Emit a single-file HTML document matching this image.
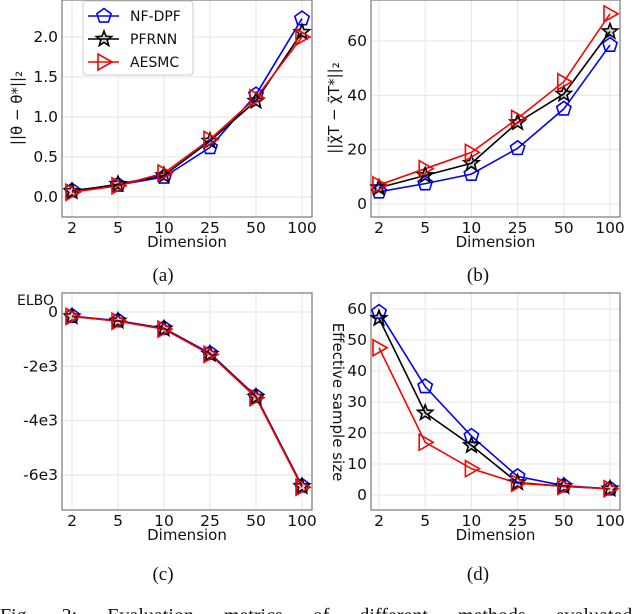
<!DOCTYPE html>
<html><head><meta charset="utf-8">
<style>
html,body{margin:0;padding:0;background:#fff;width:640px;height:614px;overflow:hidden}
svg{display:block}
text{font-family:"DejaVu Sans","Liberation Sans",sans-serif;fill:#111}
.cap{font-family:"Liberation Serif",serif;font-size:19px}
</style></head>
<body>
<svg id="fig" width="640" height="614" viewBox="0 0 640 614">
<text class="cap" x="163" y="281" text-anchor="middle">(a)</text>
<text class="cap" x="478" y="281" text-anchor="middle">(b)</text>
<text class="cap" x="163" y="580" text-anchor="middle">(c)</text>
<text class="cap" x="478" y="580" text-anchor="middle">(d)</text>
<text class="cap" x="0" y="622" style="font-size:20px;word-spacing:25px">Fig. 3: Evaluation metrics of different methods evaluated</text>
</svg>
<script>
const categories = ["2","5","10","25","50","100"];
const seriesNames = ["NF-DPF","PFRNN","AESMC"];
// panel a
const aNF = [0.08,0.15,0.25,0.62,1.28,2.23];
const aPF = [0.07,0.16,0.27,0.70,1.20,2.06];
const aAE = [0.06,0.14,0.30,0.72,1.24,2.00];
const aTicks = [0,0.5,1.0,1.5,2.0];
const aTickLabels = ["0.0","0.5","1.0","1.5","2.0"];
// panel b
const bNF = [4.5,7.5,11,20.5,35,58.5];
const bPF = [6,10.5,15,30,40.5,63.5];
const bAE = [7,13,19,31.5,45,70];
const bTicks = [0,20,40,60];
const bTickLabels = ["0","20","40","60"];
// panel c
const cNF = [-150,-320,-600,-1520,-3100,-6400];
const cPF = [-170,-330,-620,-1550,-3130,-6420];
const cAE = [-160,-340,-630,-1560,-3150,-6450];
const cTicks = [0,-2000,-4000,-6000];
const cTickLabels = ["0","-2e3","-4e3","-6e3"];
// panel d
const dNF = [59,35,19,6,3,2];
const dPF = [57,26.5,16,4,2.8,2];
const dAE = [47.5,17,8.5,3.8,2.8,2];
const dTicks = [0,10,20,30,40,50,60];
const dTickLabels = ["0","10","20","30","40","50","60"];

const NS="http://www.w3.org/2000/svg";
const svg=document.getElementById('fig');
function mk(tag,attrs,parent){const e=document.createElementNS(NS,tag);for(const k in attrs)e.setAttribute(k,attrs[k]);(parent||svg).appendChild(e);return e;}
const colors=["#0000ff","#000000","#ff0000"];

function marker(g,kind,x,y,c){
  let pts=[];
  if(kind===0){for(let i=0;i<5;i++){const a=-Math.PI/2+i*2*Math.PI/5;pts.push([x+7.5*Math.cos(a),y+7.5*Math.sin(a)]);}}
  else if(kind===1){for(let i=0;i<10;i++){const a=-Math.PI/2+i*Math.PI/5;const r=i%2?3.4:8;pts.push([x+r*Math.cos(a),y+r*Math.sin(a)]);}}
  else{pts=[[x+8,y],[x-6,y-8],[x-6,y+8]];}
  const p=mk('polygon',{points:pts.map(p=>p.join(',')).join(' '),fill:kind===1?'rgba(0,0,0,0.15)':'none',stroke:c,'stroke-width':1.6},g);
  
  
}

function panel(o){
  const g=mk('g',{});
  
  
  const xs=i=>o.x0+(o.x1-o.x0)*i/(categories.length-1);
  const ys=v=>o.yA+(v-o.vA)*(o.yB-o.yA)/(o.vB-o.vA);
  categories.forEach((c,i)=>{const l=mk('line',{x1:xs(i),x2:xs(i),y1:o.top,y2:o.bot,stroke:'#e6e6e6','stroke-width':1},g);
    
    const t=mk('text',{x:xs(i),y:o.bot+16,'text-anchor':'middle','font-size':15.5},g);t.textContent=c;
    });
  o.ticks.forEach((v,i)=>{const y=ys(v);const l=mk('line',{x1:o.left,x2:o.right,y1:y,y2:y,stroke:'#e6e6e6','stroke-width':1},g);
    
    const t=mk('text',{x:o.left-4,y:y+5,'text-anchor':'end','font-size':15.5},g);t.textContent=o.labels[i];
    });
  const fr=mk('rect',{x:o.left,y:o.top,width:o.right-o.left,height:o.bot-o.top,fill:'none',stroke:'#777','stroke-width':1.2},g);
  
  const xl=mk('text',{x:(o.left+o.right)/2,y:o.bot+30,'text-anchor':'middle','font-size':15},g);xl.textContent='Dimension';
  
  o.series.forEach((s,k)=>{
    const pl=mk('polyline',{points:s.map((v,i)=>xs(i)+','+ys(v)).join(' '),fill:'none',stroke:colors[k],'stroke-width':1.6},g);
    
    
  });
  o.series.forEach((s,k)=>{s.forEach((v,i)=>marker(g,k,xs(i),ys(v),colors[k]));});
  return g;
}

panel({name:'panel-a',left:62,right:312,top:0,bot:217,x0:72,x1:302,yA:197,vA:0,yB:37,vB:2,ticks:aTicks,labels:aTickLabels,series:[aNF,aPF,aAE]});
panel({name:'panel-b',left:371,right:620,top:0,bot:217,x0:379,x1:610,yA:204,vA:0,yB:41,vB:60,ticks:bTicks,labels:bTickLabels,series:[bNF,bPF,bAE]});
panel({name:'panel-c',left:62,right:312,top:293,bot:510,x0:72,x1:302,yA:312,vA:0,yB:475,vB:-6000,ticks:cTicks,labels:cTickLabels,series:[cNF,cPF,cAE]});
panel({name:'panel-d',left:371,right:620,top:293,bot:510,x0:379,x1:610,yA:495,vA:0,yB:309,vB:60,ticks:dTicks,labels:dTickLabels,series:[dNF,dPF,dAE]});

let t=mk('text',{x:0,y:0,'font-size':15,transform:'translate(22,108) rotate(-90)','text-anchor':'middle'});
t.textContent='||θ − θ*||₂';


t=mk('text',{x:0,y:0,'font-size':15,transform:'translate(339,108) rotate(-90)','text-anchor':'middle'});
t.textContent='||χ̃T − χ̃T*||₂';


t=mk('text',{x:17,y:305,'font-size':14});
t.textContent='ELBO';


t=mk('text',{x:0,y:0,'font-size':15,transform:'translate(333,402) rotate(90)','text-anchor':'middle'});
t.textContent='Effective sample size';



const lg=mk('g',{});


const lr=mk('rect',{x:83,y:1,width:110,height:74,rx:3,fill:'#fff',stroke:'#ccc','stroke-width':1},lg);


seriesNames.forEach((n,k)=>{
  const y=16+k*23;
  const l=mk('line',{x1:88,x2:119,y1:y,y2:y,stroke:colors[k],'stroke-width':1.6},lg);
  
  
  marker(lg,k,104,y,colors[k]);
  const tt=mk('text',{x:130,y:y+5,'font-size':14},lg);
  tt.textContent=n;
  
  
});
</script>
</body></html>
